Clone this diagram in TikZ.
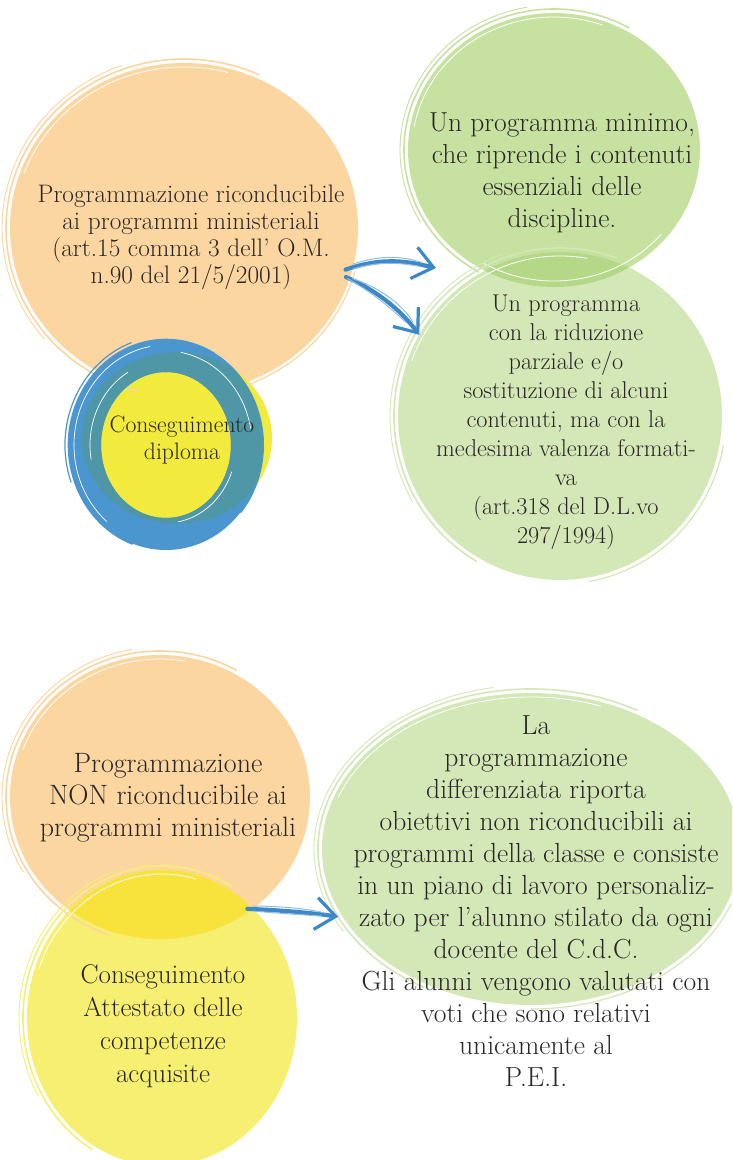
\documentclass[tikz,border=0pt]{standalone}
\usepackage{tikz}
\usetikzlibrary{shapes.geometric, arrows.meta, calc}

\definecolor{peach}{HTML}{FCD6A0}
\definecolor{sun}{HTML}{F3EA3E}
\definecolor{lemon}{HTML}{F6EF72}
\definecolor{lemondark}{HTML}{F8E23C}
\definecolor{leaf}{HTML}{C6E1A0}
\definecolor{mint}{HTML}{D3E7B7}
\definecolor{leafdark}{HTML}{B5D888}
\definecolor{sky}{HTML}{4C96D0}
\definecolor{sea}{HTML}{4F97A6}
\definecolor{pen}{HTML}{3D88C9}
\definecolor{ink}{HTML}{2A2627}

\tikzset{
  blob/.style={ellipse, inner sep=0pt, outer sep=0pt},
  txt/.style={align=center, text=ink, inner sep=0pt},
  brush/.style={draw=pen, line width=4.2pt, line cap=round,
    -{Straight Barb[length=20pt, width=32pt, line width=3.2pt]}},
  hair/.style={draw=pen!55, line width=1pt, line cap=round}
}

\begin{document}
\begin{tikzpicture}[x=1pt, y=-1pt]
\useasboundingbox (0,0) rectangle (732,1160);
\clip (0,0) rectangle (732,1160);
\fill[white] (0,0) rectangle (732,1160);

% upper half
\node[blob, fill=peach, minimum width=348pt, minimum height=330pt] (ricond) at (184,228) {};
\node[blob, fill=sun, minimum width=190pt, minimum height=172pt] (diploma) at (177,438) {};
\node[blob, fill=leaf, minimum width=292pt, minimum height=274pt] (minimo) at (554,150) {};
\node[blob, fill=mint, minimum width=324pt, minimum height=328pt] (ridotto) at (560,416) {};
\begin{scope}
  \clip (minimo.center) ellipse [x radius=146, y radius=137];
  \fill[leafdark] (ridotto.center) ellipse [x radius=162, y radius=164];
\end{scope}

% lower half
\node[blob, fill=peach, minimum width=300pt, minimum height=284pt] (nonric) at (160,797) {};
\node[blob, fill=lemon, minimum width=270pt, minimum height=296pt] (attestato) at (162,1018) {};
\begin{scope}
  \clip (nonric.center) ellipse [x radius=150, y radius=142];
  \fill[lemondark] (attestato.center) ellipse [x radius=135, y radius=148];
\end{scope}
\node[blob, fill=mint, minimum width=418pt, minimum height=312pt] (differ) at (531,849) {};

% sketchy rims
\foreach \n/\c/\R/\S/\a/\b/\w in {
  ricond/peach/178/169/105/295/1.6, ricond/peach/182/173/140/250/0.9,
  ricond/white/170/161/200/285/0.8, ricond/peach/177/168/15/75/1.2,
  minimo/leaf/150/141/120/300/1.6, minimo/leaf/154/145/150/260/0.9,
  minimo/white/142/133/190/290/0.8, minimo/white/140/131/40/120/0.8,
  ridotto/mint/166/168/120/290/1.6, ridotto/mint/170/172/150/250/0.9,
  ridotto/white/158/160/200/280/0.8, ridotto/mint/166/168/10/80/1.2,
  nonric/peach/154/146/110/300/1.6, nonric/peach/158/150/150/260/0.9,
  nonric/white/146/138/200/280/0.8,
  attestato/lemon/139/152/120/300/1.6, attestato/lemon/143/156/150/250/0.9,
  attestato/white/131/144/200/285/0.8,
  differ/mint/213/160/120/300/1.6, differ/mint/217/164/150/260/0.9,
  differ/white/205/152/200/290/0.8, differ/mint/213/160/20/90/1.2}
  \draw[\c, line width=\w] ([shift={(\a:{\R} and {\S})}]\n.center)
    arc [start angle=\a, end angle=\b, x radius=\R, y radius=\S];

% blue ring round the diploma
\coordinate (ringc) at (166,445);
\foreach \R/\S/\a/\b/\w in {81/89/0/360/32, 97/105/110/300/2.6,
  101/109/160/250/1.2, 97/105/300/400/2}
  \draw[sky, line width=\w] ([shift={(\a:{\R} and {\S})}]ringc)
    arc [start angle=\a, end angle=\b, x radius=\R, y radius=\S];
\begin{scope}
  \clip (diploma.center) ellipse [x radius=95, y radius=86];
  \draw[sea, line width=32] (ringc) ellipse [x radius=81, y radius=89];
\end{scope}
\foreach \R/\S/\a/\b in {92/100/130/260, 76/84/170/240, 86/94/280/350, 70/78/20/80}
  \draw[white, line width=0.7] ([shift={(\a:{\R} and {\S})}]ringc)
    arc [start angle=\a, end angle=\b, x radius=\R, y radius=\S];

% texts
\node[txt, font=\fontsize{25.3}{27}\selectfont] (ricond-t) at (191,237)
  {Programmazione riconducibile\\ai programmi ministeriali\\(art.15 comma 3 dell’ O.M.\\n.90 del 21/5/2001)};
\node[txt, font=\fontsize{23.7}{27}\selectfont] (diploma-t) at (182,440)
  {Conseguimento\\diploma};
\node[txt, font=\fontsize{27.5}{32}\selectfont] (minimo-t) at (562,173)
  {Un programma minimo,\\che riprende i contenuti\\essenziali delle\\discipline.};
\node[txt, font=\fontsize{24.3}{29}\selectfont] (ridotto-t) at (566,422)
  {Un programma\\con la riduzione\\parziale e/o\\sostituzione di alcuni\\contenuti, ma con la\\medesima valenza formati-\\va\\(art.318 del D.L.vo\\297/1994)};
\node[txt, font=\fontsize{28}{32}\selectfont] (nonric-t) at (168,798)
  {Programmazione\\NON riconducibile ai\\programmi ministeriali};
\node[txt, font=\fontsize{27}{33}\selectfont] (attestato-t) at (163,1026)
  {Conseguimento\\Attestato delle\\competenze\\acquisite};
\node[txt, font=\fontsize{27.6}{32}\selectfont] (differ-t) at (536,901)
  {La\\programmazione\\differenziata riporta\\obiettivi non riconducibili ai\\programmi della classe e consiste\\in un piano di lavoro personaliz-\\zato per l’alunno stilato da ogni\\docente del C.d.C.\\Gli alunni vengono valutati con\\voti che sono relativi\\unicamente al\\P.E.I.};

% brush arrows
\coordinate (tipA) at (436,268);
\draw[brush, shorten <=-8pt] (ricond.-13) .. controls (385,256) and (410,262) .. (tipA);
\draw[hair, shorten >=14pt] ([yshift=3pt]ricond.-13) .. controls (385,253) and (410,258) .. (tipA);
\draw[hair, shorten >=18pt] ([yshift=-2pt]ricond.-13) .. controls (385,259) and (410,265) .. (tipA);
\draw[brush, shorten <=-4pt] (ricond.-17) .. controls (380,292) and (402,312) .. (ridotto.150);
\draw[hair, shorten >=14pt] ([xshift=3pt]ricond.-17) .. controls (384,289) and (406,309) .. (ridotto.150);
\draw[hair, shorten >=18pt] ([xshift=-2pt]ricond.-17) .. controls (377,295) and (398,315) .. (ridotto.150);
\draw[brush, shorten <=-6pt, shorten >=5pt] (attestato.50) .. controls (275,910) and (305,912) .. (differ.200);
\draw[hair, shorten >=18pt] ([yshift=3pt]attestato.50) .. controls (275,906) and (305,908) .. (differ.200);
\draw[hair, shorten >=22pt] ([yshift=-2pt]attestato.50) .. controls (275,913) and (305,915) .. (differ.200);
\end{tikzpicture}
\end{document}
